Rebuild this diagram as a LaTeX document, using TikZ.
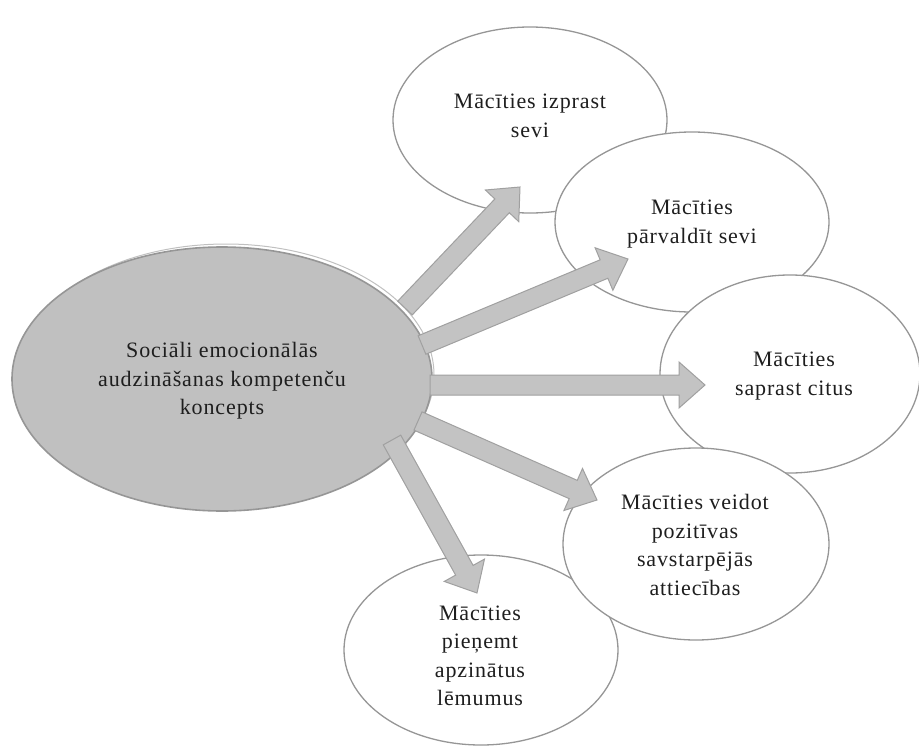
\documentclass[tikz,border=0pt]{standalone}
\usepackage{fontspec}
\setmainfont{Liberation Serif}
\usetikzlibrary{calc}
\definecolor{centerfill}{RGB}{192,192,192}
\definecolor{edgegray}{RGB}{150,150,150}
\definecolor{arrowfill}{RGB}{195,195,195}
\definecolor{arrowedge}{RGB}{160,160,160}
\definecolor{textcol}{RGB}{30,30,30}
\tikzset{
  bubble/.style={draw=edgegray, line width=1.3pt, fill=white},
  centerbubble/.style={draw=edgegray, line width=1.6pt, fill=centerfill},
  lbl/.style={align=center, font=\addfontfeatures{LetterSpace=4}\fontsize{22}{28.5}\selectfont, text=textcol, inner sep=0pt},
  blockarr/.style={draw=arrowedge, line width=1pt, fill=arrowfill, line join=miter}
}
\newcommand{\blockarrow}[2]{%
  \draw[blockarr] let \p1=(#1), \p2=(#2),
    \n1={atan2(\y2-\y1,\x2-\x1)}, \n2={veclen(\x2-\x1,\y2-\y1)} in
    [shift={(\p1)}, rotate=\n1]
    (0pt,-10pt) -- ({(\n2-26)*1pt},-10pt) -- ({(\n2-26)*1pt},-23pt) --
    ({\n2*1pt},0pt) -- ({(\n2-26)*1pt},23pt) -- ({(\n2-26)*1pt},10pt) --
    (0pt,10pt) -- cycle;}
\begin{document}
\begin{tikzpicture}[x=1pt,y=-1pt]
\useasboundingbox (0,0) rectangle (919,750);
% outer bubbles
\draw[bubble] (530,120) ellipse [x radius=137, y radius=93];
\draw[bubble] (692,222) ellipse [x radius=137, y radius=90];
\draw[bubble] (790,374) ellipse [x radius=130, y radius=99];
\draw[bubble] (481,650) ellipse [x radius=137, y radius=95];
\draw[bubble] (696,544) ellipse [x radius=133, y radius=96];
% central bubble
\draw[draw=edgegray!60, line width=1pt] (226,375) ellipse [x radius=208, y radius=131];
\draw[centerbubble] (222,379) ellipse [x radius=210, y radius=132];
% anchor coordinates
\coordinate (s1) at (405,308);
\coordinate (e1) at (520,187);
\coordinate (s2) at (422,345);
\coordinate (e2) at (628,259);
\coordinate (s3) at (430,385);
\coordinate (e3) at (705,385);
\coordinate (s4) at (418,421);
\coordinate (e4) at (597,500);
\coordinate (s5) at (392,440);
\coordinate (e5) at (477,593);
\blockarrow{s1}{e1}
\blockarrow{s2}{e2}
\blockarrow{s3}{e3}
\blockarrow{s4}{e4}
\blockarrow{s5}{e5}
% labels
\node[lbl] (c) at (222,381) {Sociāli emocionālās\\audzināšanas kompetenču\\koncepts};
\node[lbl] (t1) at (530,116) {Mācīties izprast\\sevi};
\node[lbl] (t2) at (692,224) {Mācīties\\pārvaldīt sevi};
\node[lbl] (t3) at (794,376) {Mācīties\\saprast citus};
\node[lbl] (t4) at (695,545) {Mācīties veidot\\pozitīvas\\savstarpējās\\attiecības};
\node[lbl] (t5) at (480,656) {Mācīties\\pieņemt\\apzinātus\\lēmumus};
\end{tikzpicture}
\end{document}
